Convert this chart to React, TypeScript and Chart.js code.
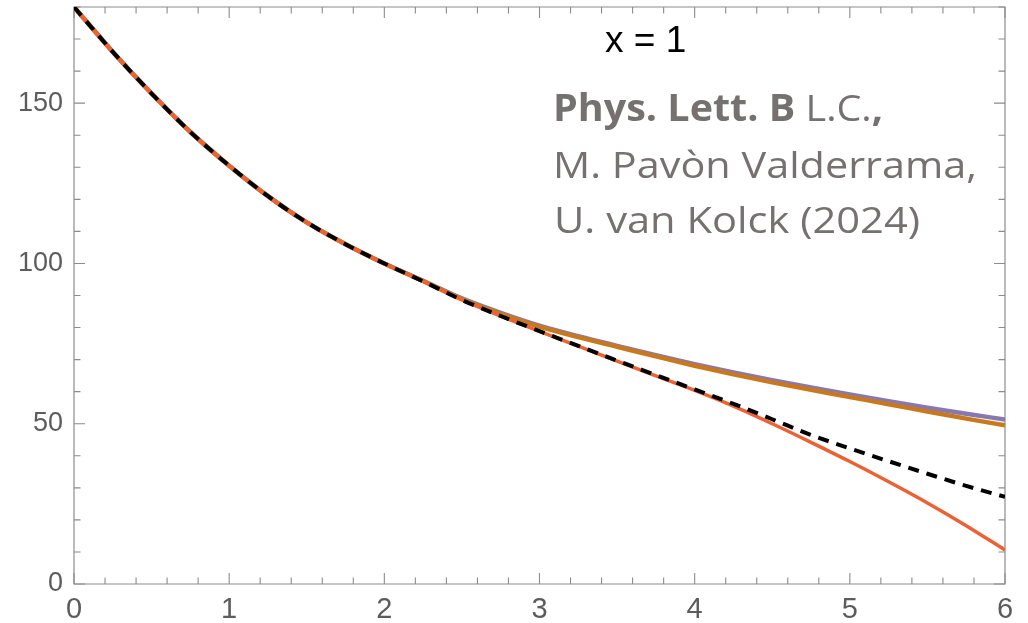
import React, { useEffect, useRef } from "react";
import { Chart, registerables } from "chart.js";

Chart.register(...registerables);

// x positions of sampled points
const xValues = [0, 0.25, 0.5, 0.75, 1, 1.25, 1.5, 1.75, 2, 2.25, 2.5, 2.75, 3, 3.25, 3.5, 3.75, 4, 4.25, 4.5, 4.75, 5, 5.25, 5.5, 5.75, 6];

// series values
const purpleValues = [180, 166, 153, 141, 130.5, 121, 112.8, 106, 100, 94.6, 89.1, 84.6, 80.6, 77.3, 74.3, 71.4, 68.6, 66.0, 63.6, 61.3, 59.1, 57.0, 55.0, 53.1, 51.3];
const orangeValues = [180, 166, 153, 141, 130.5, 121, 112.8, 106, 100, 94.5, 88.9, 84.3, 80.3, 77.0, 74.0, 71.0, 68.1, 65.4, 62.9, 60.6, 58.3, 56.1, 53.8, 51.6, 49.5];
const redValues = [180, 166, 153, 141, 130.5, 121, 112.8, 106, 100, 94.4, 88.6, 83.6, 78.8, 74.2, 69.5, 64.9, 60.4, 55.5, 50.0, 44.2, 38.2, 31.9, 25.3, 18.2, 10.6];
const blackValues = [180, 166, 153, 141, 130.5, 121, 112.8, 106, 100, 94.4, 88.6, 83.6, 78.9, 74.3, 69.7, 65.2, 60.7, 56.2, 51.4, 46.5, 42.3, 38.3, 34.4, 30.6, 27.2];

// axis settings
const xMin = 0;
const xMax = 6;
const yMin = 0;
const yMax = 180;
const xMajorStep = 1;
const xMinorStep = 0.2;
const yMajorStep = 50;
const yMinorStep = 10;

// annotations
const titleText = "x = 1";
const refBold1 = "Phys. Lett. B";
const refNormal1 = " L.C.";
const refBold2 = ",";
const refLine2 = "M. Pavòn Valderrama,";
const refLine3 = "U. van Kolck (2024)";

const toPoints = (ys: number[]) => xValues.map((x, i) => ({ x, y: ys[i] }));

const frameColor = "#8c8c8c";

const framePlugin = {
  id: "mmaFrame",
  beforeDatasetsDraw(chart: any) {
    const { ctx, chartArea } = chart;
    const xs = chart.scales.x;
    const ys = chart.scales.y;
    const { left, right, top, bottom } = chartArea;
    ctx.save();
    ctx.strokeStyle = frameColor;
    ctx.lineWidth = 1.2;
    ctx.beginPath();
    ctx.rect(left, top, right - left, bottom - top);
    ctx.stroke();
    ctx.lineWidth = 1.1;
    ctx.beginPath();
    const nx = Math.round((xMax - xMin) / xMinorStep);
    for (let i = 0; i <= nx; i++) {
      const v = xMin + i * xMinorStep;
      const major = Math.abs(v / xMajorStep - Math.round(v / xMajorStep)) < 1e-6;
      const len = major ? 11 : 6.5;
      const px = xs.getPixelForValue(v);
      ctx.moveTo(px, bottom);
      ctx.lineTo(px, bottom - len);
      ctx.moveTo(px, top);
      ctx.lineTo(px, top + len);
    }
    const ny = Math.round((yMax - yMin) / yMinorStep);
    for (let i = 0; i <= ny; i++) {
      const v = yMin + i * yMinorStep;
      const major = Math.abs(v / yMajorStep - Math.round(v / yMajorStep)) < 1e-6;
      const len = major ? 11 : 6.5;
      const py = ys.getPixelForValue(v);
      ctx.moveTo(left, py);
      ctx.lineTo(left + len, py);
      ctx.moveTo(right, py);
      ctx.lineTo(right - len, py);
    }
    ctx.stroke();
    ctx.restore();
  },
  afterDraw(chart: any) {
    const { ctx } = chart;
    ctx.save();
    ctx.textBaseline = "alphabetic";
    ctx.textAlign = "left";
    ctx.fillStyle = "#000000";
    ctx.font = "37px 'Liberation Sans', Arial, sans-serif";
    ctx.fillText(titleText, 605, 52);

    const gray = "#767171";
    ctx.fillStyle = gray;
    const size = 37;
    const fam = "'Open Sans', Lato, sans-serif";
    const bold = `bold ${size}px ${fam}`;
    const normal = `${size}px ${fam}`;

    // line 1 with mixed weights, fitted to the reference width
    const parts: [string, string][] = [
      [refBold1, bold],
      [refNormal1, normal],
      [refBold2, bold],
    ];
    let total = 0;
    for (const [t, f] of parts) {
      ctx.font = f;
      total += ctx.measureText(t).width;
    }
    const drawFitted = (segments: [string, string][], x0: number, y0: number, targetW: number, width: number) => {
      const k = targetW / width;
      ctx.save();
      ctx.translate(x0, y0);
      ctx.scale(k, 1);
      let x = 0;
      for (const [t, f] of segments) {
        ctx.font = f;
        ctx.fillText(t, x, 0);
        x += ctx.measureText(t).width;
      }
      ctx.restore();
    };
    drawFitted(parts, 553, 121, 330, total);
    ctx.font = normal;
    drawFitted([[refLine2, normal]], 553, 178, 424, ctx.measureText(refLine2).width);
    ctx.font = normal;
    drawFitted([[refLine3, normal]], 554, 233, 366, ctx.measureText(refLine3).width);
    ctx.restore();
  },
};

export default function App() {
  const canvasRef = useRef<HTMLCanvasElement | null>(null);

  useEffect(() => {
    const canvas = canvasRef.current;
    if (!canvas) return;
    const chart = new Chart(canvas, {
      type: "line",
      data: {
        datasets: [
          {
            label: "dashed",
            data: toPoints(blackValues),
            borderColor: "#000000",
            borderWidth: 4,
            borderDash: [11, 8],
            pointRadius: 0,
            cubicInterpolationMode: "monotone",
            fill: false,
          },
          {
            label: "red",
            data: toPoints(redValues),
            borderColor: "#EB6235",
            borderWidth: 3.5,
            pointRadius: 0,
            cubicInterpolationMode: "monotone",
            fill: false,
          },
          {
            label: "orange",
            data: toPoints(orangeValues),
            borderColor: "#C9791D",
            borderWidth: 4.5,
            pointRadius: 0,
            cubicInterpolationMode: "monotone",
            fill: false,
          },
          {
            label: "purple",
            data: toPoints(purpleValues),
            borderColor: "#8778B3",
            borderWidth: 4.5,
            pointRadius: 0,
            cubicInterpolationMode: "monotone",
            fill: false,
          },
        ],
      },
      options: {
        animation: false,
        responsive: false,
        devicePixelRatio: 1,
        layout: { padding: { top: 7, right: 23, left: 0, bottom: 0 } },
        plugins: { legend: { display: false }, tooltip: { enabled: false }, title: { display: false } },
        scales: {
          x: {
            type: "linear",
            min: xMin,
            max: xMax,
            grid: { display: false, drawTicks: false },
            border: { display: false },
            ticks: {
              stepSize: xMajorStep,
              padding: 9,
              color: "#5c5c5c",
              font: { family: "'Liberation Sans', Arial, sans-serif", size: 29 },
              maxRotation: 0,
            },
            afterFit: (s: any) => {
              s.height = 76;
              s.paddingLeft = 0;
              s.paddingRight = 0;
            },
          },
          y: {
            type: "linear",
            min: yMin,
            max: yMax,
            grid: { display: false, drawTicks: false },
            border: { display: false },
            ticks: {
              stepSize: yMajorStep,
              includeBounds: false,
              padding: 11,
              color: "#5c5c5c",
              font: { family: "'Liberation Sans', Arial, sans-serif", size: 27 },
            },
            afterFit: (s: any) => {
              s.width = 74;
              s.paddingTop = 0;
              s.paddingBottom = 0;
            },
          },
        },
      },
      plugins: [framePlugin],
    });
    return () => chart.destroy();
  }, []);

  return (
    <div style={{ position: "fixed", left: 0, top: 0, width: 1028, height: 623, overflow: "hidden", background: "#ffffff" }}>
      <canvas ref={canvasRef} width={1028} height={660} style={{ display: "block" }} />
    </div>
  );
}
